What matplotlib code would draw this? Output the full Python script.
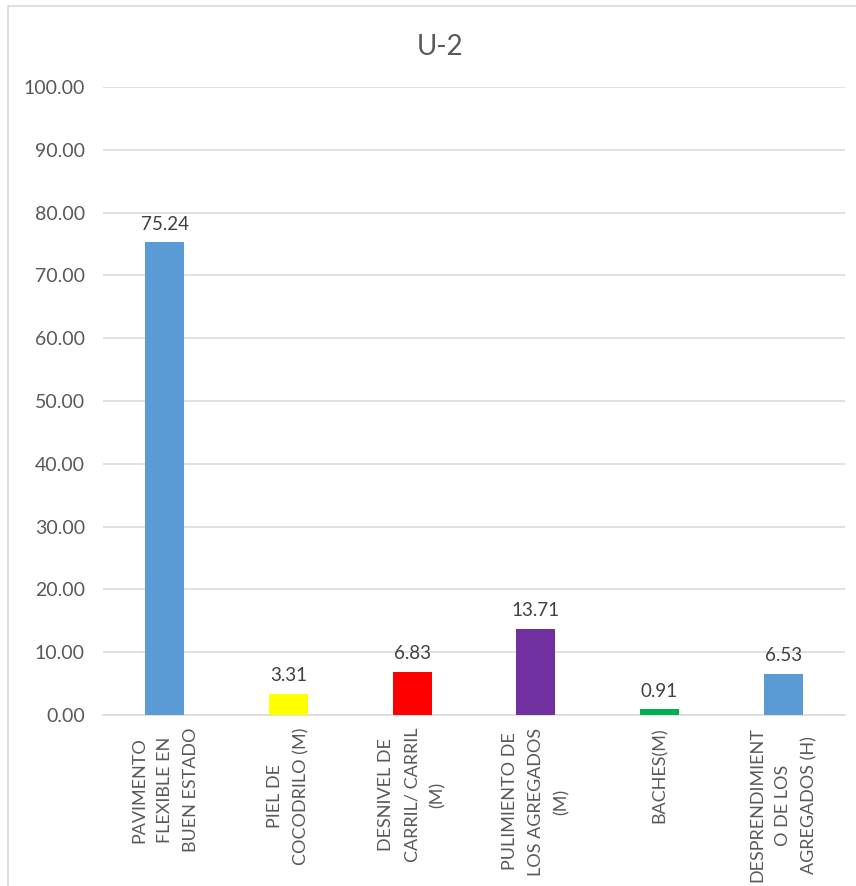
import matplotlib.pyplot as plt
from matplotlib.patches import Rectangle
import numpy as np

plt.rcParams['font.family'] = ['Lato', 'DejaVu Sans']

categorias = [
    'PAVIMENTO\nFLEXIBLE EN\nBUEN ESTADO',
    'PIEL DE\nCOCODRILO (M)',
    'DESNIVEL DE\nCARRIL/ CARRIL\n(M)',
    'PULIMIENTO DE\nLOS AGREGADOS\n(M)',
    'BACHES(M)',
    'DESPRENDIMIENT\nO DE LOS\nAGREGADOS (H)',
]
valores = [75.24, 3.31, 6.83, 13.71, 0.91, 6.53]
colores = ['#5B9BD5', '#FFFF00', '#FF0000', '#7030A0', '#00B050', '#5B9BD5']

fig = plt.figure(figsize=(8.56, 8.86), dpi=100)
fig.patches.append(Rectangle((8 / 856, -0.1), 1.2, 1.1 - 6 / 886,
                             transform=fig.transFigure, fill=False,
                             edgecolor='#D9D9D9', linewidth=1.2))

ax = fig.add_axes([0.1203, 0.193, 0.8668, 0.7088])
x = np.arange(len(valores))
bars = ax.bar(x, valores, width=0.315, color=colores, zorder=3)

for b, v in zip(bars, valores):
    ax.annotate(f'{v:.2f}', (b.get_x() + b.get_width() / 2, v),
                xytext=(0, 7), textcoords='offset points',
                ha='center', va='bottom', fontsize=13.5, color='#404040')

ax.set_xlim(-0.5, len(valores) - 0.5)
ax.set_ylim(0, 100)
ax.set_yticks(np.arange(0, 101, 10))
ax.set_yticklabels([f'{t:.2f}' for t in range(0, 101, 10)])
ax.grid(axis='y', color='#D9D9D9', linewidth=1.1, zorder=0)
for s in ['top', 'right', 'left']:
    ax.spines[s].set_visible(False)
ax.spines['bottom'].set_color('#D9D9D9')
ax.spines['bottom'].set_linewidth(1.1)
ax.tick_params(axis='y', length=0, pad=13, labelsize=14, labelcolor='#595959')
ax.tick_params(axis='x', length=0)

ax.set_xticks(x)
ax.set_xticklabels([])
for xi, lab in zip(x, categorias):
    ax.annotate(lab, (xi, 0), xytext=(0, -9), textcoords='offset points',
                rotation=90, ha='center', va='top', multialignment='center',
                fontsize=13, color='#595959', linespacing=1.75,
                annotation_clip=False)

fig.text(440 / 856, 1 - 47 / 886, 'U-2', ha='center', va='center',
         fontsize=20, color='#595959')

plt.savefig('out.png', dpi=100)
